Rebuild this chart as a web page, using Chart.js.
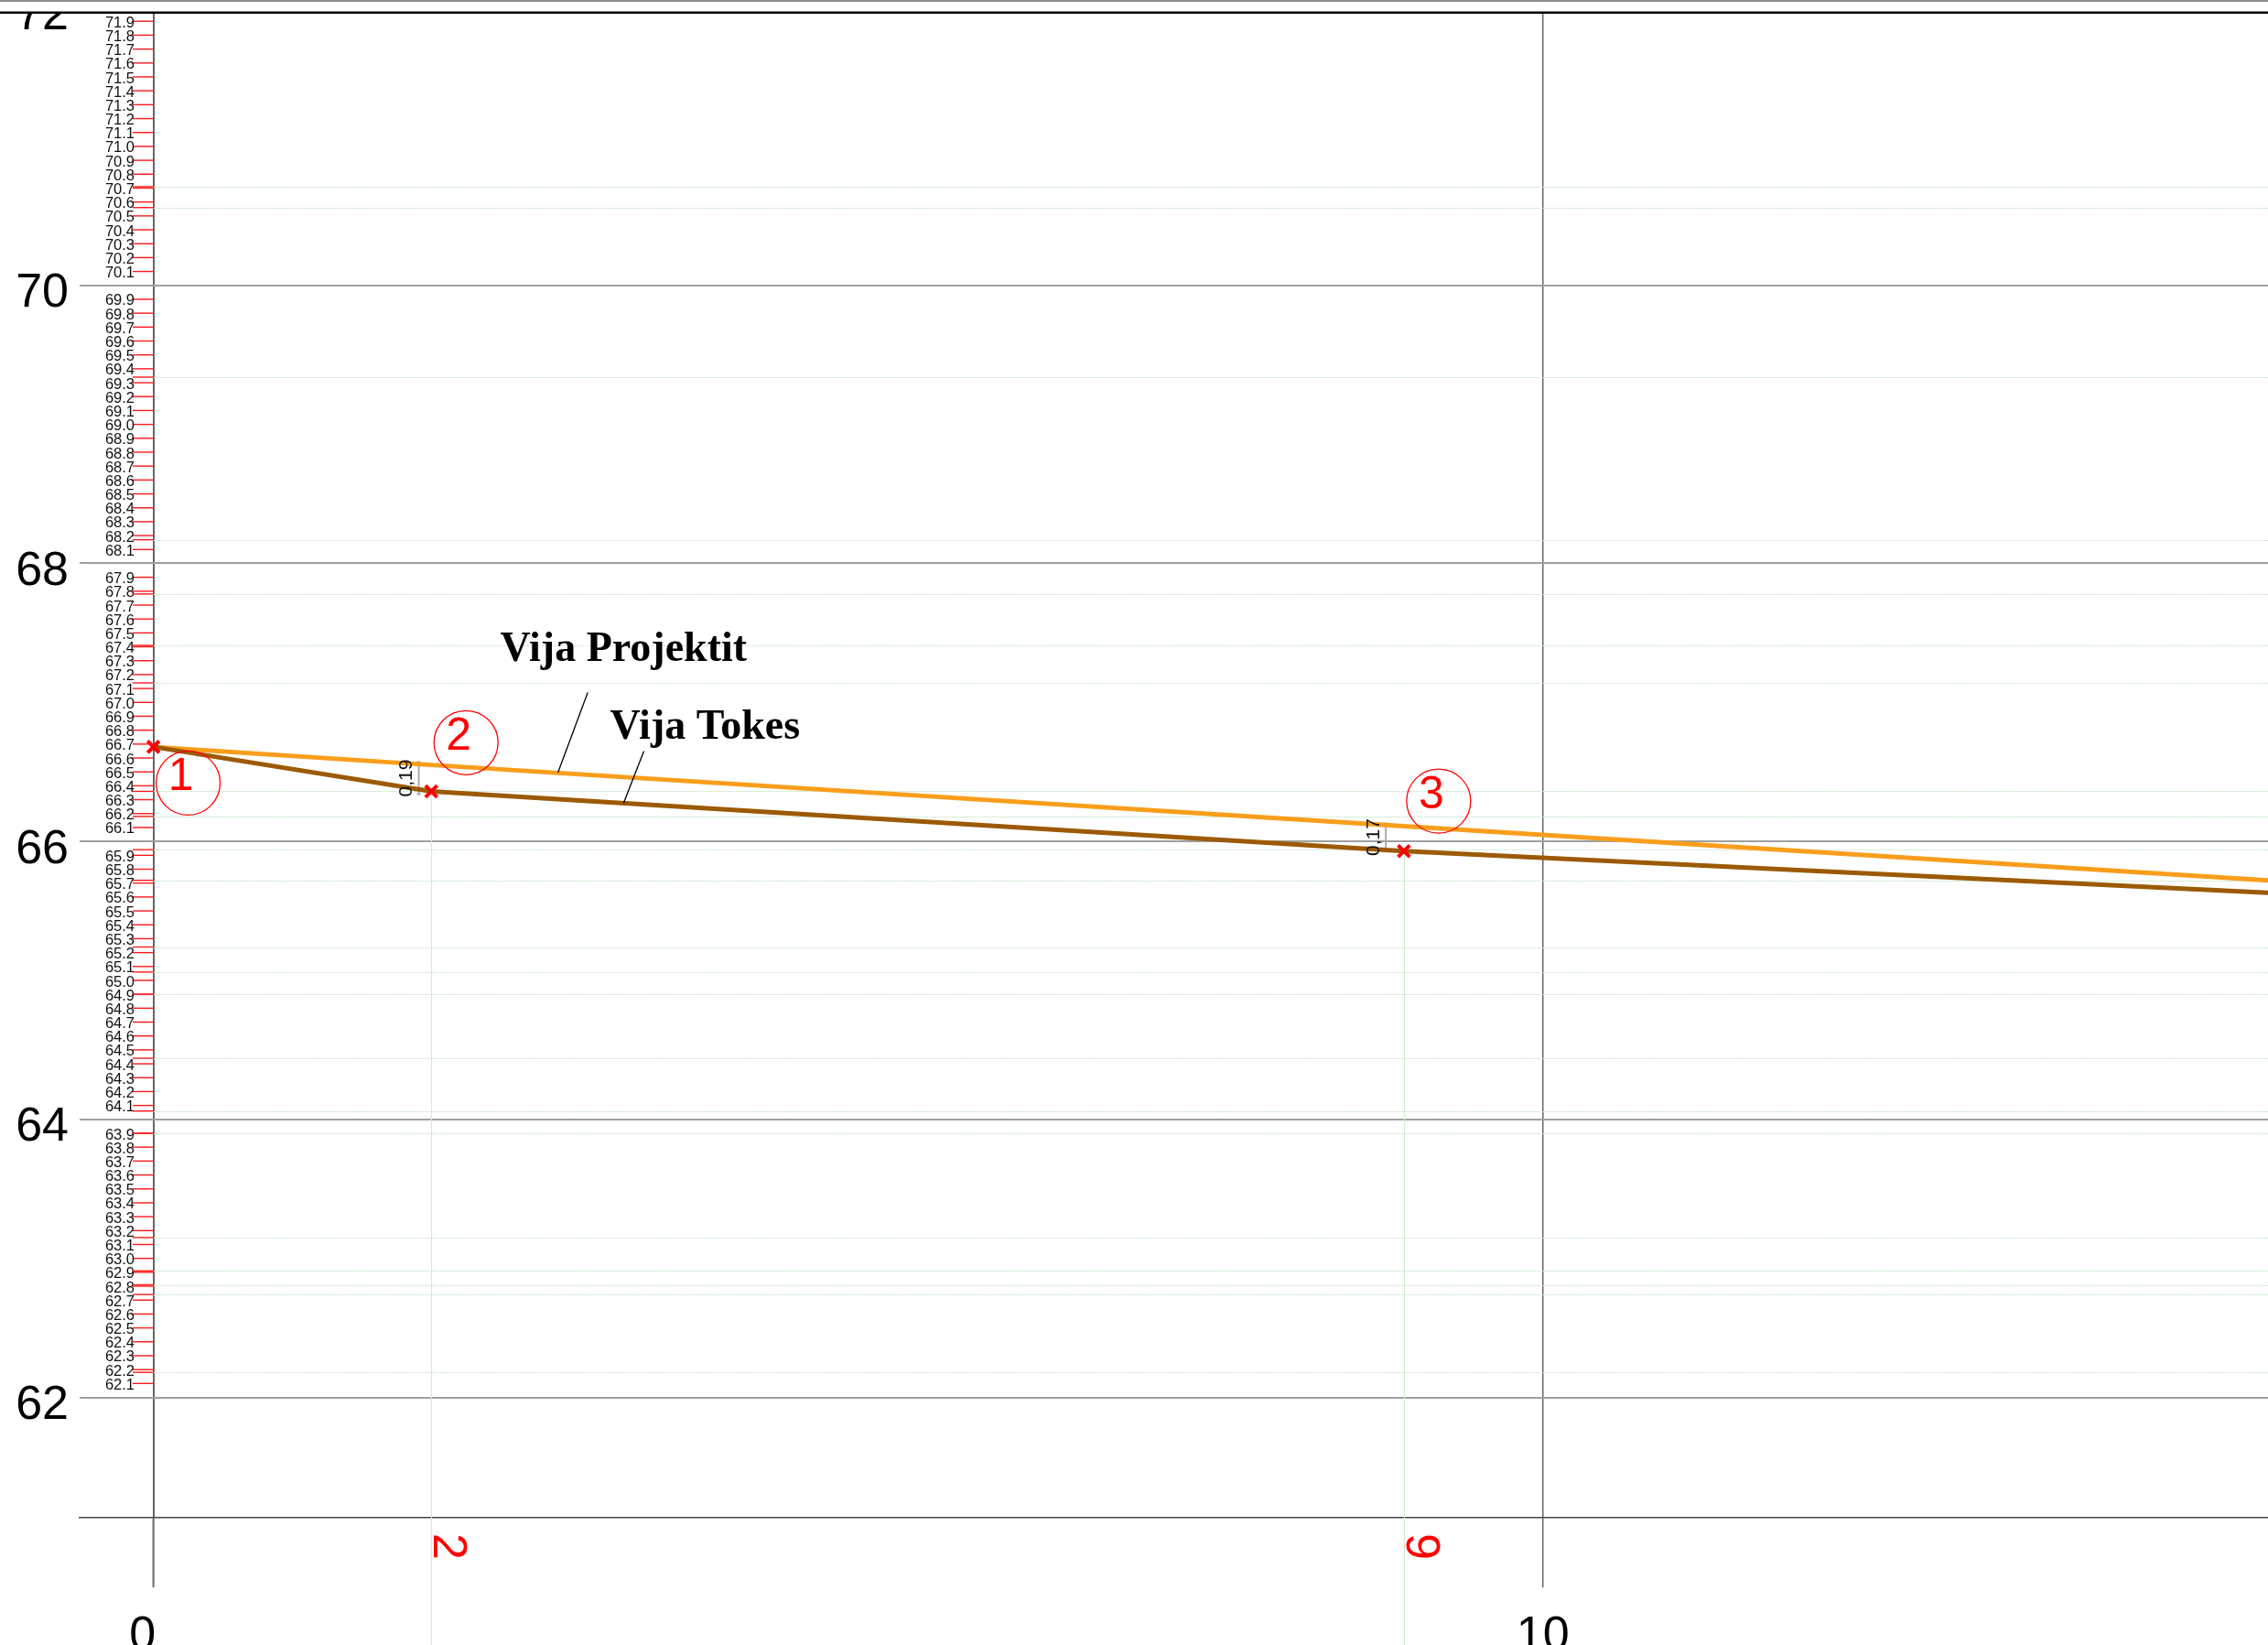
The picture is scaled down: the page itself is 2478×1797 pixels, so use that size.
<!DOCTYPE html>
<html><head><meta charset="utf-8">
<script src="https://cdn.jsdelivr.net/npm/chart.js@4.4.1/dist/chart.umd.min.js"></script>
<style>html,body{margin:0;padding:0;background:#fff;overflow:hidden}canvas{display:block}</style>
</head><body>
<canvas id="c" width="2478" height="1797"></canvas>
<script>
// ---------------- data ----------------
const stationX     = [0, 2, 9, 15.22];
const projectLine  = [66.68, 66.55, 66.11, 65.72];   // Vija Projektit
const groundLine   = [66.68, 66.36, 65.93, 65.63];   // Vija Tokes
const seriesNames  = ['Vija Projektit', 'Vija Tokes'];
const pointX       = [0, 2, 9];
const pointY       = [66.68, 66.36, 65.93];
const pointNumbers = ['1', '2', '3'];
const calloutX     = [0.25, 2.25, 9.25];
const calloutY     = [66.42, 66.71, 66.29];
const stationLabels = ['2', '9'];
const stationLabelX = [2, 9];
const stationLabelY = [66.36, 65.93];
const diffLabels   = ['0,19', '0,17'];
const diffX        = [1.91, 8.87];
const diffTop      = [66.57, 66.13];
const diffBottom   = [66.34, 65.93];
const majorYTicks  = [62, 64, 66, 68, 70, 72];
const majorXTicks  = [0, 10];
const xTickLabels  = ['0', '10'];
const levelLines   = [70.71, 70.56, 69.34, 68.17, 67.78, 67.41, 67.14, 66.36, 66.18, 65.94, 65.72,
                      65.24, 65.06, 64.90, 64.44, 64.06, 63.90, 63.15, 62.91, 62.81, 62.74, 62.18];
// annotation anchors (data units)
const nameLabels = [
  {text: seriesNames[0], x: 2.496, y: 67.30, lead: [3.126, 67.071, 2.912, 66.496]},
  {text: seriesNames[1], x: 3.287, y: 66.74, lead: [3.530, 66.649, 3.383, 66.272]}
];

const SANS = '"Liberation Sans", Arial, sans-serif';
const SERIF = '"Liberation Serif", "Times New Roman", serif';

const profilePlugin = {
  id: 'profile',
  beforeDatasetsDraw(chart) {
    const {ctx, chartArea: ca, scales: {x, y}} = chart;
    const px = v => x.getPixelForValue(v), py = v => y.getPixelForValue(v);
    ctx.save();
    // faint green level lines
    ctx.strokeStyle = '#cfe9cf';
    ctx.lineWidth = 1.2;
    ctx.setLineDash([3, 1]);
    levelLines.forEach(v => {
      const yy = Math.round(py(v)) + 0.5;
      ctx.beginPath(); ctx.moveTo(px(0), yy); ctx.lineTo(ca.right, yy); ctx.stroke();
    });
    ctx.setLineDash([]);
    // station verticals
    ctx.strokeStyle = '#d2ecd2';
    stationLabelX.forEach((v, i) => {
      const xx = Math.round(px(v)) + 0.5;
      ctx.beginPath(); ctx.moveTo(xx, py(stationLabelY[i])); ctx.lineTo(xx, chart.height); ctx.stroke();
    });
    // extensions of vertical axis lines below the base line
    majorXTicks.forEach(v => {
      ctx.strokeStyle = '#666';
      ctx.lineWidth = v === 0 ? 2 : 1.5;
      ctx.beginPath(); ctx.moveTo(px(v), ca.bottom); ctx.lineTo(px(v), ca.bottom + 76); ctx.stroke();
    });
    // dimension lines
    ctx.strokeStyle = '#aaa'; ctx.lineWidth = 2;
    diffX.forEach((v, i) => {
      const xx = px(v), y1 = py(diffTop[i]), y2 = py(diffBottom[i]);
      ctx.beginPath(); ctx.moveTo(xx, y1); ctx.lineTo(xx, y2);
      ctx.moveTo(xx - 2, y1); ctx.lineTo(xx + 2, y1);
      ctx.moveTo(xx - 2, y2); ctx.lineTo(xx + 2, y2);
      ctx.stroke();
    });
    ctx.restore();
  },
  afterDatasetsDraw(chart) {
    const {ctx, scales: {x, y}} = chart;
    const px = v => x.getPixelForValue(v), py = v => y.getPixelForValue(v);
    const x0 = px(0);
    ctx.save();
    // red minor ticks with labels every 0.1
    ctx.strokeStyle = '#ff1a1a'; ctx.lineWidth = 1.4;
    ctx.fillStyle = '#111'; ctx.font = '16.5px ' + SANS;
    ctx.textAlign = 'right'; ctx.textBaseline = 'middle';
    for (let i = 621; i <= 719; i++) {
      if (i % 20 === 0) continue;
      const v = i / 10, yy = py(v);
      ctx.beginPath(); ctx.moveTo(145, yy); ctx.lineTo(x0, yy); ctx.stroke();
      ctx.fillText(v.toFixed(1), 147, yy + 2);
    }
    levelLines.forEach(v => {
      const yy = py(v);
      ctx.beginPath(); ctx.moveTo(145, yy); ctx.lineTo(x0, yy); ctx.stroke();
    });
    // big elevation labels (clipped under the frame line)
    ctx.save();
    ctx.beginPath(); ctx.rect(0, 15, chart.width, chart.height); ctx.clip();
    ctx.fillStyle = '#000'; ctx.font = '52px ' + SANS;
    ctx.textAlign = 'right'; ctx.textBaseline = 'alphabetic';
    majorYTicks.forEach(v => ctx.fillText(String(v), 75, py(v) + 23.5));
    ctx.restore();
    // distance labels
    ctx.fillStyle = '#000'; ctx.font = '52px ' + SANS;
    ctx.textAlign = 'center'; ctx.textBaseline = 'alphabetic';
    majorXTicks.forEach((v, i) => ctx.fillText(xTickLabels[i], px(v) - (v === 0 ? 12 : 0), 1802));
    // red station labels (rotated)
    ctx.fillStyle = '#ff0000'; ctx.font = '52px ' + SANS;
    ctx.textAlign = 'left';
    stationLabelX.forEach((v, i) => {
      ctx.save(); ctx.translate(px(v) + 3, 1675); ctx.rotate(Math.PI / 2);
      ctx.fillText(stationLabels[i], 0, 0); ctx.restore();
    });
    // callout numbers
    ctx.font = '50px ' + SANS; ctx.textAlign = 'center'; ctx.textBaseline = 'middle';
    calloutX.forEach((v, i) => ctx.fillText(pointNumbers[i], px(v) - 8, py(calloutY[i]) - 6));
    // difference texts (rotated)
    ctx.fillStyle = '#111'; ctx.font = '21px ' + SANS;
    diffX.forEach((v, i) => {
      const my = (py(diffTop[i]) + py(diffBottom[i])) / 2;
      ctx.save(); ctx.translate(px(v) - 13, my); ctx.rotate(-Math.PI / 2);
      ctx.fillText(diffLabels[i], 0, 0); ctx.restore();
    });
    // series name labels with leaders
    ctx.fillStyle = '#000'; ctx.font = 'bold 46px ' + SERIF;
    ctx.textAlign = 'left'; ctx.textBaseline = 'alphabetic';
    ctx.strokeStyle = '#000'; ctx.lineWidth = 1.3;
    nameLabels.forEach(l => {
      ctx.fillText(l.text, px(l.x), py(l.y));
      ctx.beginPath(); ctx.moveTo(px(l.lead[0]), py(l.lead[1])); ctx.lineTo(px(l.lead[2]), py(l.lead[3])); ctx.stroke();
    });
    ctx.restore();
  },
  afterDraw(chart) {
    const {ctx} = chart;
    ctx.save();
    ctx.fillStyle = '#fff'; ctx.fillRect(0, 0, chart.width, 13);
    ctx.strokeStyle = '#666'; ctx.lineWidth = 1.6;
    ctx.beginPath(); ctx.moveTo(0, 1); ctx.lineTo(chart.width, 1); ctx.stroke();
    ctx.strokeStyle = '#000'; ctx.lineWidth = 2.4;
    ctx.beginPath(); ctx.moveTo(0, 13.8); ctx.lineTo(chart.width, 13.8); ctx.stroke();
    ctx.restore();
  }
};

new Chart(document.getElementById('c').getContext('2d'), {
  type: 'scatter',
  data: {
    datasets: [
      {label: seriesNames[0], data: stationX.map((v, i) => ({x: v, y: projectLine[i]})),
       showLine: true, borderColor: '#f99e1c', backgroundColor: '#f99e1c', borderWidth: 5,
       pointRadius: 0, tension: 0, order: 4},
      {label: seriesNames[1], data: stationX.map((v, i) => ({x: v, y: groundLine[i]})),
       showLine: true, borderColor: '#9c5a04', backgroundColor: '#9c5a04', borderWidth: 5,
       pointRadius: 0, tension: 0, order: 3},
      {label: 'Pikat', data: pointX.map((v, i) => ({x: v, y: pointY[i]})),
       showLine: false, pointStyle: 'crossRot', pointRadius: 9, borderColor: '#ff0000',
       borderWidth: 4, order: 1},
      {label: 'Numrat', data: calloutX.map((v, i) => ({x: v, y: calloutY[i]})),
       showLine: false, pointStyle: 'circle', pointRadius: 35, borderColor: '#ff0000',
       backgroundColor: 'rgba(0,0,0,0)', borderWidth: 1.3, order: 2}
    ]
  },
  options: {
    responsive: false, animation: false, devicePixelRatio: 1, events: [],
    layout: {autoPadding: false, padding: {left: 87, top: 14, right: 0, bottom: 139}},
    plugins: {legend: {display: false}, tooltip: {enabled: false}},
    scales: {
      x: {
        type: 'linear', min: -0.531, max: 15.219,
        afterBuildTicks: s => { s.ticks = majorXTicks.map(v => ({value: v})); },
        ticks: {display: false},
        grid: {drawTicks: false, color: '#666', lineWidth: c => (c.tick && c.tick.value === 0 ? 2 : 1.5)},
        border: {display: true, color: '#444', width: 1.6}
      },
      y: {
        type: 'linear', min: 61.134, max: 71.961,
        afterBuildTicks: s => { s.ticks = majorYTicks.filter(v => v <= s.max && v >= s.min).map(v => ({value: v})); },
        ticks: {display: false},
        grid: {drawTicks: false, color: '#a0a0a0', lineWidth: 2},
        border: {display: false}
      }
    }
  },
  plugins: [profilePlugin]
});
</script>
</body></html>
